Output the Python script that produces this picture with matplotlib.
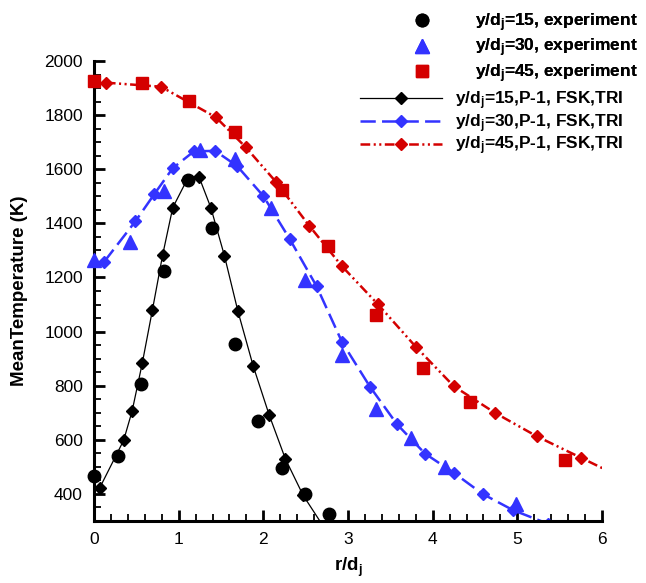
import matplotlib
matplotlib.use("Agg")
import matplotlib.pyplot as plt
from matplotlib.ticker import MultipleLocator

plt.rcParams['font.family'] = ['Liberation Sans', 'DejaVu Sans']
plt.rcParams['mathtext.default'] = 'regular'
plt.rcParams['lines.scale_dashes'] = False

# experiment points
r_exp15 = [0.0, 0.28, 0.56, 0.83, 1.11, 1.39, 1.67, 1.94, 2.22, 2.49, 2.78]
t_exp15 = [465, 540, 808, 1225, 1562, 1383, 955, 670, 495, 400, 326]

r_exp30 = [0.0, 0.42, 0.83, 1.25, 1.67, 2.09, 2.49, 2.93, 3.33, 3.75, 4.15, 4.99]
t_exp30 = [1265, 1332, 1518, 1670, 1638, 1457, 1190, 914, 713, 606, 500, 362]

r_exp45 = [0.0, 0.57, 1.12, 1.67, 2.22, 2.76, 3.33, 3.89, 4.44, 5.56]
t_exp45 = [1926, 1918, 1853, 1736, 1523, 1318, 1063, 864, 738, 524]

# P-1, FSK, TRI simulation
r_sim15 = [0.067, 0.35, 0.45, 0.57, 0.69, 0.81, 0.93, 1.1, 1.24, 1.38, 1.54,
           1.70, 1.88, 2.07, 2.26, 2.47, 2.73]
t_sim15 = [422, 598, 706, 883, 1080, 1282, 1458, 1562, 1572, 1458, 1281,
           1075, 873, 691, 530, 395, 270]

r_sim30 = [0.12, 0.49, 0.71, 0.93, 1.18, 1.43, 1.69, 2.0, 2.31, 2.63, 2.93,
           3.26, 3.58, 3.91, 4.25, 4.59, 4.95, 5.36]
t_sim30 = [1258, 1408, 1507, 1604, 1666, 1668, 1612, 1501, 1343, 1167, 961,
           796, 657, 549, 478, 400, 340, 290]

r_sim45 = [0.14, 0.79, 1.44, 1.79, 2.15, 2.54, 2.93, 3.35, 3.80, 4.25, 4.74,
           5.23, 5.75, 6.25]
t_sim45 = [1920, 1905, 1792, 1682, 1553, 1392, 1241, 1102, 944, 798, 699,
           613, 534, 458]

blue = '#3333ff'
red = '#d40000'

fig = plt.figure(figsize=(6.46, 5.83), dpi=100)
ax = fig.add_axes([94 / 646, 62 / 583, 508 / 646, 460 / 583])

l15, = ax.plot(r_sim15, t_sim15, color='black', lw=0.9, marker='D', ms=6.5,
               zorder=2)
l30, = ax.plot(r_sim30, t_sim30, color=blue, lw=1.8, marker='D', ms=6.5,
               zorder=2)
l30.set_dashes([11, 4.5])
l45, = ax.plot(r_sim45, t_sim45, color=red, lw=1.8, marker='D', ms=6.5,
               zorder=2)
l45.set_dashes([7, 2.5, 1.5, 2.5, 1.5, 2.5])

e15, = ax.plot(r_exp15, t_exp15, 'o', color='black', ms=9, clip_on=False,
               zorder=3)
e30, = ax.plot(r_exp30, t_exp30, '^', color=blue, ms=10.5, clip_on=False,
               zorder=3)
e45, = ax.plot(r_exp45, t_exp45, 's', color=red, ms=8.5, clip_on=False,
               zorder=3)

ax.set_xlim(0, 6)
ax.set_ylim(300, 2000)
ax.xaxis.set_major_locator(MultipleLocator(1))
ax.xaxis.set_minor_locator(MultipleLocator(0.2))
ax.yaxis.set_minor_locator(MultipleLocator(50))
ax.set_yticks([400, 600, 800, 1000, 1200, 1400, 1600, 1800, 2000])

for side in ['top', 'right']:
    ax.spines[side].set_visible(False)
for side in ['left', 'bottom']:
    ax.spines[side].set_linewidth(2.2)

ax.tick_params(which='major', direction='in', length=8, width=2, labelsize=12.5, pad=8)
ax.tick_params(which='minor', direction='in', length=5, width=1.3)

ax.set_xlabel('r/d$_j$', fontsize=13.5, fontweight='bold', labelpad=6)
ax.set_ylabel('MeanTemperature (K)', fontsize=13.5, fontweight='bold', labelpad=12)

leg1 = fig.legend([e15, e30, e45],
                  ['y/d$_j$=15, experiment', 'y/d$_j$=30, experiment',
                   'y/d$_j$=45, experiment'],
                  loc='upper left', bbox_to_anchor=(404.6 / 646, 1 - 11 / 583),
                  frameon=False, borderpad=0, borderaxespad=0,
                  handlelength=2, handletextpad=2.05, labelspacing=0.18,
                  prop={'size': 12.5, 'weight': 'bold'})
fig.add_artist(leg1)
leg2 = fig.legend([l15, l30, l45],
                  ['y/d$_j$=15,P-1, FSK,TRI', 'y/d$_j$=30,P-1, FSK,TRI',
                   'y/d$_j$=45,P-1, FSK,TRI'],
                  loc='upper left', bbox_to_anchor=(360 / 646, 1 - 89 / 583),
                  frameon=False, borderpad=0, borderaxespad=0,
                  handlelength=4.72, handletextpad=0.75, labelspacing=0.02,
                  prop={'size': 12.5, 'weight': 'bold'})

fig.savefig('out.png', dpi=100)
